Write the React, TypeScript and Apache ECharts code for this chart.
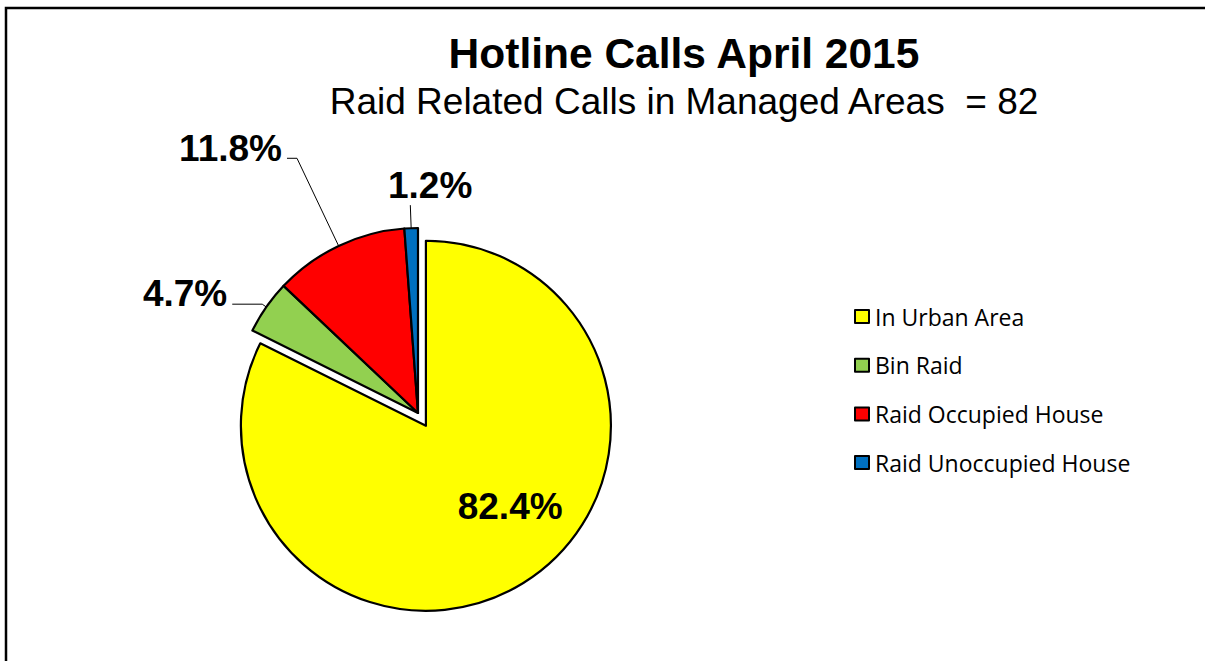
import React, { useEffect, useRef } from "react";
import * as echarts from "echarts";

const categories = ["In Urban Area", "Bin Raid", "Raid Occupied House", "Raid Unoccupied House"];
const values = [70, 4, 10, 1];
const colors = ["#FFFF00", "#92D050", "#FF0000", "#0070C0"];
const titleText = "Hotline Calls April 2015";
const subtitleText = "Raid Related Calls in Managed Areas  = 82";

export default function App() {
  const ref = useRef<HTMLDivElement>(null);
  useEffect(() => {
    document.body.style.margin = "0";
    if (!ref.current) return;
    const chart = echarts.init(ref.current, null, { renderer: "svg" });
    const total = values.reduce((a, b) => a + b, 0);
    const pct = (v: number) => ((v / total) * 100).toFixed(1) + "%";
    const labelFont = { fontFamily: "Liberation Sans, Arial", fontWeight: "bold" as const, fontSize: 37, color: "#000" };
    const labelCfg: any[] = [
      { position: "inside", ...labelFont, formatter: (p: any) => pct(p.value) },
      { position: "outside", ...labelFont, lineHeight: 22, formatter: (p: any) => pct(p.value) + "\n " },
      { position: "outside", ...labelFont, lineHeight: 20, formatter: (p: any) => pct(p.value) + "\n " },
      {
        position: "outside",
        ...labelFont,
        lineHeight: 20,
        distanceToLabelLine: -62,
        formatter: (p: any) => pct(p.value) + "\n \n ",
      },
    ];
    const lineCfg: any[] = [
      { show: false },
      { show: true, length: 5, length2: 30 },
      { show: true, length: 97, length2: 10 },
      { show: true, length: 23, length2: 0 },
    ];
    const data = categories.map((name, i) => ({
      name,
      value: values[i],
      selected: i === 0,
      itemStyle: { color: colors[i], borderColor: "#000", borderWidth: 2.2 },
      select: { itemStyle: { color: colors[i], borderColor: "#000", borderWidth: 2.2 } },
      label: labelCfg[i],
      labelLine: { ...lineCfg[i], lineStyle: { color: "#000", width: 1 } },
    }));
    chart.setOption({
      animation: false,
      backgroundColor: "#fff",
      title: [
        {
          text: titleText,
          left: 679,
          top: 27,
          textAlign: "center",
          textStyle: { fontFamily: "Liberation Sans, Arial", fontWeight: "bold", fontSize: 42.5, color: "#000" },
        },
        {
          text: subtitleText,
          left: 679,
          top: 78,
          textAlign: "center",
          textStyle: { fontFamily: "Liberation Sans, Arial", fontWeight: "normal", fontSize: 37, color: "#000" },
        },
      ],
      legend: {
        orient: "vertical",
        left: 849,
        top: 300,
        itemWidth: 14,
        itemHeight: 13,
        itemGap: 25.7,
        icon: "rect",
        selectedMode: false,
        data: categories,
        itemStyle: { borderColor: "#000", borderWidth: 2 },
        textStyle: { fontFamily: "Open Sans", fontSize: 23, color: "#000", lineHeight: 23, padding: [0, 0, 0, 1] },
      },
      graphic: [
        {
          type: "rect",
          shape: { x: 6, y: 8, width: 1400, height: 1000 },
          style: { fill: "none", stroke: "#000", lineWidth: 2.5 },
          silent: true,
        },
      ],
      series: [
        {
          type: "pie",
          center: [418, 413],
          radius: 185,
          startAngle: 90,
          clockwise: true,
          selectedMode: "single",
          selectedOffset: 15,
          avoidLabelOverlap: false,
          emphasis: { disabled: true },
          labelLayout: (p: any) => {
            if (p.dataIndex === 0) return { dx: 34 };
            return {};
          },
          data,
        },
      ],
    });
    return () => chart.dispose();
  }, []);
  return <div ref={ref} style={{ width: 1205, height: 661 }} />;
}
